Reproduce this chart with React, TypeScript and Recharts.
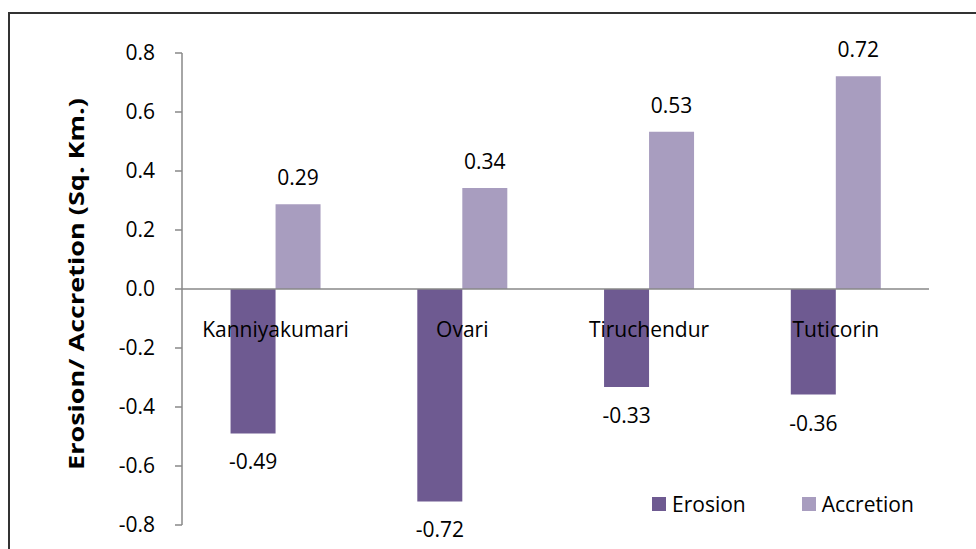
import { BarChart, Bar, XAxis, YAxis, LabelList, ReferenceLine } from 'recharts';

const stations = ['Kanniyakumari', 'Ovari', 'Tiruchendur', 'Tuticorin'];
const erosion = [-0.49, -0.72, -0.332, -0.358];
const accretion = [0.287, 0.342, 0.533, 0.721];
const yTicks = [-0.8, -0.6, -0.4, -0.2, 0, 0.2, 0.4, 0.6, 0.8];

const series = [
  { key: 'erosion', name: 'Erosion', color: '#6E5A91' },
  { key: 'accretion', name: 'Accretion', color: '#A89DBF' },
];

const data = stations.map((name, i) => ({ name, erosion: erosion[i], accretion: accretion[i] }));

const FONT = '"Open Sans", sans-serif';

// category names sit just under the zero line, drawn over the erosion bars
const CategoryLabel = (props: any) => {
  const vb = props.viewBox || props;
  const zeroY = vb.y + vb.height;
  return (
    <text x={vb.x} y={zeroY + 48} textAnchor="middle" fontSize={21} fill="#000" fontFamily={FONT}>
      {props.value}
    </text>
  );
};

// the title in the original is stretched along its length
const AxisTitle = (props: any) => {
  const vb = props.viewBox;
  const cx = vb.x - 6;
  const cy = vb.y + vb.height / 2 - 5;
  return (
    <text
      x={cx}
      y={cy}
      transform={`rotate(-90, ${cx}, ${cy})`}
      textAnchor="middle"
      dominantBaseline="central"
      fontSize={21}
      fontWeight="bold"
      fill="#000"
      fontFamily={FONT}
      textLength={372}
      lengthAdjust="spacingAndGlyphs"
    >
      Erosion/ Accretion (Sq. Km.)
    </text>
  );
};

const App = () => {
  return (
    <div style={{ position: 'absolute', left: 0, top: 0, width: 976, height: 549, background: '#fff', fontFamily: FONT }}>
      <div
        style={{
          position: 'absolute',
          left: 8,
          top: 12,
          right: 0,
          bottom: 0,
          borderLeft: '2px solid #333',
          borderTop: '2px solid #333',
        }}
      />
      <BarChart
        width={976}
        height={549}
        data={data}
        margin={{ top: 53, right: 47, bottom: 24, left: 82 }}
        barCategoryGap="26%"
        barGap={0}
      >
        <XAxis dataKey="name" hide />
        <YAxis
          width={100}
          domain={[-0.8, 0.8]}
          ticks={yTicks}
          tickFormatter={(v: number) => v.toFixed(1)}
          tick={{ fontSize: 21, fill: '#000', fontFamily: FONT }}
          tickSize={7}
          tickMargin={20}
          stroke="#898989"
          strokeWidth={1.5}
          label={<AxisTitle />}
        />
        <ReferenceLine y={0} stroke="#898989" strokeWidth={1.5} />
        <Bar dataKey="erosion" name="Erosion" fill={series[0].color} isAnimationActive={false}>
          <LabelList
            dataKey="erosion"
            position="top"
            offset={21}
            formatter={(v: any) => Number(v).toFixed(2)}
            style={{ fontSize: 21, fill: '#000', fontFamily: FONT }}
          />
        </Bar>
        <Bar dataKey="accretion" name="Accretion" fill={series[1].color} isAnimationActive={false}>
          <LabelList
            dataKey="accretion"
            position="top"
            offset={19}
            formatter={(v: any) => Number(v).toFixed(2)}
            style={{ fontSize: 21, fill: '#000', fontFamily: FONT }}
          />
          <LabelList dataKey="name" content={<CategoryLabel />} />
        </Bar>
      </BarChart>
      <div style={{ position: 'absolute', left: 652, top: 490, display: 'flex', alignItems: 'center', fontSize: 21 }}>
        {series.map((s, i) => (
          <div key={s.key} style={{ display: 'flex', alignItems: 'center', marginRight: i === 0 ? 56 : 0 }}>
            <span style={{ width: 14, height: 14, background: s.color, marginRight: 6, display: 'inline-block' }} />
            <span style={{ color: '#000' }}>{s.name}</span>
          </div>
        ))}
      </div>
    </div>
  );
};

export default App;
